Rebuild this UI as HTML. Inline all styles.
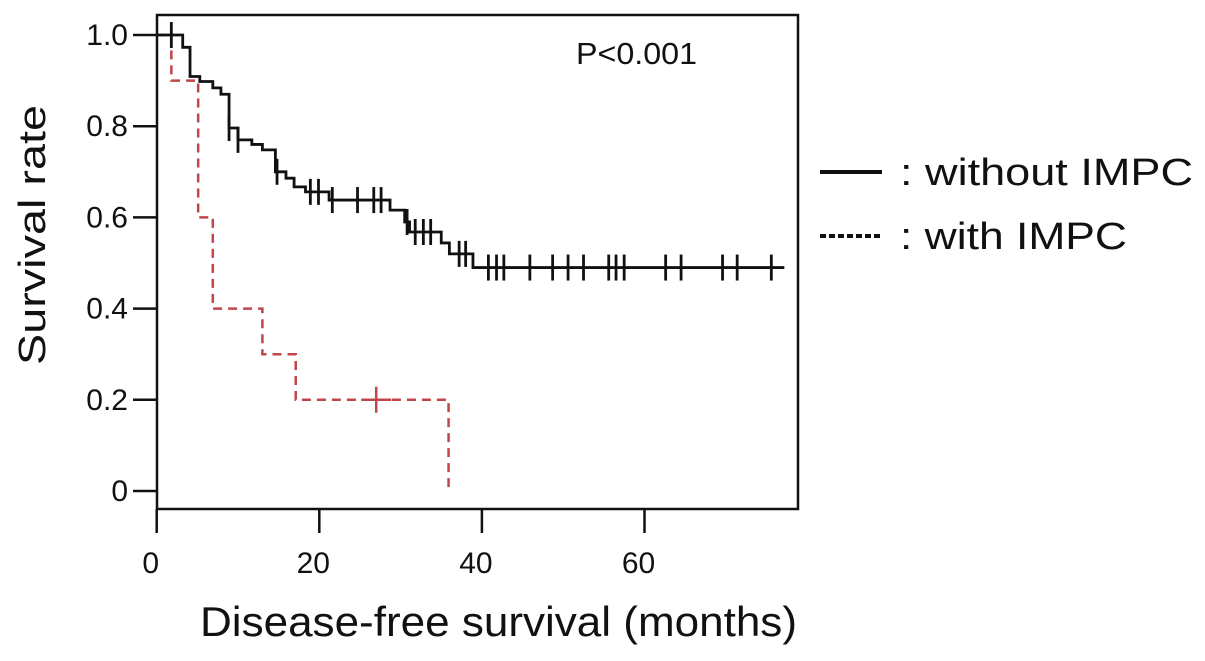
<!DOCTYPE html>
<html><head><meta charset="utf-8"><style>
body{margin:0;background:#fff;width:1205px;height:656px;overflow:hidden}
svg{font-family:"Liberation Sans",sans-serif}
</style></head><body>
<svg id="chart" width="1205" height="656">
<rect x="157" y="15" width="641" height="494" fill="none" stroke="#111" stroke-width="2.5"/>
<g id="axes"></g>
<g id="series"></g>
<text x="576" y="64" font-size="31" textLength="121" lengthAdjust="spacingAndGlyphs" fill="#111">P&lt;0.001</text>
<text x="200" y="636" font-size="42" textLength="597" lengthAdjust="spacingAndGlyphs" fill="#111">Disease-free survival (months)</text>
<text transform="translate(45,365) rotate(-90)" font-size="38" textLength="260" lengthAdjust="spacingAndGlyphs" fill="#111">Survival rate</text>
<g>
<line x1="820" y1="172" x2="882" y2="172" stroke="#111" stroke-width="4"/>
<text x="900" y="185" font-size="38" textLength="293" lengthAdjust="spacingAndGlyphs" fill="#111">: without IMPC</text>
<line x1="820" y1="236" x2="882" y2="236" stroke="#111" stroke-width="4" stroke-dasharray="6,3"/>
<text x="900" y="249" font-size="38" textLength="227" lengthAdjust="spacingAndGlyphs" fill="#111">: with IMPC</text>
</g>
</svg>
<script>
const xTicks=[0,20,40,60];
const yTicks=[0,0.2,0.4,0.6,0.8,1.0];
const yTickLabels=["0","0.2","0.4","0.6","0.8","1.0"];
const blackTimes=[0,3.2,4.1,5.3,6.9,7.9,8.9,10.0,11.7,13.0,14.6,15.9,16.9,18.3,21.2,28.7,30.5,31.1,35.0,36.0,38.9,77.2];
const blackSurv=[1.0,0.973,0.909,0.898,0.884,0.87,0.796,0.77,0.76,0.748,0.70,0.686,0.667,0.656,0.638,0.616,0.59,0.568,0.544,0.52,0.49,0.49];
const blackCensor=[1.8,8.9,10.0,14.8,18.9,19.9,21.6,24.7,26.7,27.6,30.8,31.8,32.8,33.7,37.2,38.0,40.8,41.8,42.7,45.9,48.7,50.6,52.5,55.6,56.5,57.5,62.6,64.5,69.6,71.4,75.6];
const redTimes=[0,1.8,5.1,6.9,13.0,17.1,35.9];
const redSurv=[1.0,0.9,0.6,0.4,0.3,0.2,0.0];
const redCensor=[27.0];
const X=m=>156.7+m*8.13;
const Y=s=>491-s*456;
const NS="http://www.w3.org/2000/svg";
function mk(tag,attrs,parent){const e=document.createElementNS(NS,tag);for(const k in attrs)e.setAttribute(k,attrs[k]);parent.appendChild(e);return e;}
const ax=document.getElementById('axes'),se=document.getElementById('series');
xTicks.forEach(t=>{
 const l=mk('line',{x1:X(t),x2:X(t),y1:509,y2:533,stroke:'#111','stroke-width':2.5},ax);
 
 
 const tx=mk('text',{x:X(t)-6,y:573,'font-size':30,'text-anchor':'middle',fill:'#111'},ax);tx.textContent=t;
 
 
});
yTicks.forEach((t,i)=>{
 const l=mk('line',{x1:133,x2:157,y1:Y(t),y2:Y(t),stroke:'#111','stroke-width':2.5},ax);
 
 
 const tx=mk('text',{x:128,y:Y(t)+10,'font-size':30,'text-anchor':'end',fill:'#111'},ax);tx.textContent=yTickLabels[i];
 
 
});
function stepPath(ts,ss){let d=`M${X(ts[0])},${Y(ss[0])}`;for(let i=1;i<ts.length;i++){d+=` H${X(ts[i])} V${Y(ss[i])}`;}return d;}
function survAt(ts,ss,t){let s=ss[0];for(let i=0;i<ts.length;i++){if(ts[i]<=t)s=ss[i];}return s;}
const rp=mk('path',{d:stepPath(redTimes,redSurv),fill:'none',stroke:'#c0464a','stroke-width':2.5,'stroke-dasharray':'9,6'},se);


redCensor.forEach(t=>{const s=survAt(redTimes,redSurv,t);
 const c=mk('path',{d:`M${X(t)-15},${Y(s)} H${X(t)+15} M${X(t)},${Y(s)-13} V${Y(s)+13}`,stroke:'#c0464a','stroke-width':2.5},se);
 
 });
const bp=mk('path',{d:stepPath(blackTimes,blackSurv),fill:'none',stroke:'#111','stroke-width':2.8},se);


blackCensor.forEach(t=>{const s=survAt(blackTimes,blackSurv,t);
 const c=mk('path',{d:`M${X(t)},${Y(s)-13} V${Y(s)+13}`,stroke:'#111','stroke-width':2.8},se);
 
 });
</script>
</body></html>
